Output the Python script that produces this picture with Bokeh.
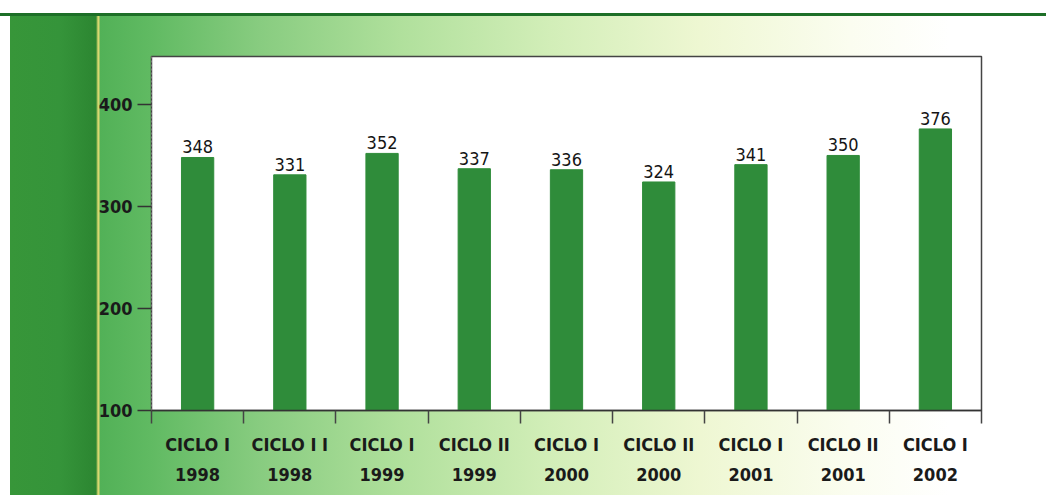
from bokeh.plotting import figure
from bokeh.models import FixedTicker, ColumnDataSource, Range1d
from bokeh.embed import file_html
from bokeh.resources import INLINE
from bokeh.core.properties import value

# ---- data ----
cycles = ["CICLO I", "CICLO I I", "CICLO I", "CICLO II", "CICLO I", "CICLO II", "CICLO I", "CICLO II", "CICLO I"]
years = ["1998", "1998", "1999", "1999", "2000", "2000", "2001", "2001", "2002"]
values = [348, 331, 352, 337, 336, 324, 341, 350, 376]
y_ticks = [100, 200, 300, 400]

FONT = "DejaVu Sans Condensed"
BAR = "#2f8c3a"

xs = list(range(len(values)))
labels = [f"{c}\n{y}" for c, y in zip(cycles, years)]
src = ColumnDataSource(dict(x=xs, top=values, txt=[str(v) for v in values]))

p = figure(width=1046, height=495, output_backend="svg", toolbar_location=None,
           x_range=Range1d(-0.5, len(values) - 0.5), y_range=Range1d(100, 447),
           min_border_left=151, min_border_right=65, min_border_top=56, min_border_bottom=85)

p.border_fill_color = None
p.background_fill_color = "white"
p.outline_line_color = "#444444"
p.outline_line_width = 1.5
p.xgrid.visible = False
p.ygrid.visible = False

p.styles = {
    "background": (
        "linear-gradient(to bottom, #ffffff 0px, #ffffff 13px, #1d6f27 13px, #1d6f27 16px, rgba(255,255,255,0) 16px),"
        "linear-gradient(to right, #ffffff 0px, #ffffff 10px, #379639 10px, #35943a 60px, #2c8631 96px,"
        " #d8d870 98px, #d8d870 99px, #52b157 100px, #60ba62 150px, #88cc80 260px, #b0e09c 400px,"
        " #d2eeb8 550px, #eef7d2 700px, #fbfdf0 850px, #ffffff 950px)"
    )
}

p.vbar(x="x", top="top", bottom=100, width=0.35, source=src, fill_color=BAR, line_color=BAR)
p.text(x="x", y="top", text="txt", source=src, text_align="center", text_baseline="bottom",
       y_offset=-4, text_font=value(FONT), text_font_size="18px", text_color="#151515")

xa = p.xaxis[0]
xa.ticker = FixedTicker(ticks=xs, minor_ticks=[x - 0.5 for x in xs] + [xs[-1] + 0.5])
xa.major_label_overrides = {x: lab for x, lab in zip(xs, labels)}
xa.major_tick_line_color = None
xa.major_tick_out = 0
xa.major_tick_in = 0
xa.minor_tick_line_color = "#444444"
xa.minor_tick_line_width = 1.5
xa.minor_tick_out = 13
xa.minor_tick_in = 0
xa.axis_line_color = "#333333"
xa.axis_line_width = 1.5
xa.major_label_standoff = 10
xa.major_label_text_font = FONT
xa.major_label_text_font_style = "bold"
xa.major_label_text_font_size = "18px"
xa.major_label_text_color = "#1a1a1a"
xa.major_label_text_line_height = 1.43

ya = p.yaxis[0]
ya.ticker = FixedTicker(ticks=y_ticks)
ya.major_tick_out = 14
ya.major_tick_in = 0
ya.major_tick_line_color = "#333333"
ya.major_tick_line_width = 1.5
ya.minor_tick_line_color = None
ya.axis_line_color = "#777777"
ya.axis_line_dash = "2 2"
ya.major_label_standoff = 5
ya.major_label_text_font = FONT
ya.major_label_text_font_style = "bold"
ya.major_label_text_font_size = "18px"
ya.major_label_text_color = "#1a1a1a"

open("out.html", "w").write(file_html(p, INLINE))
